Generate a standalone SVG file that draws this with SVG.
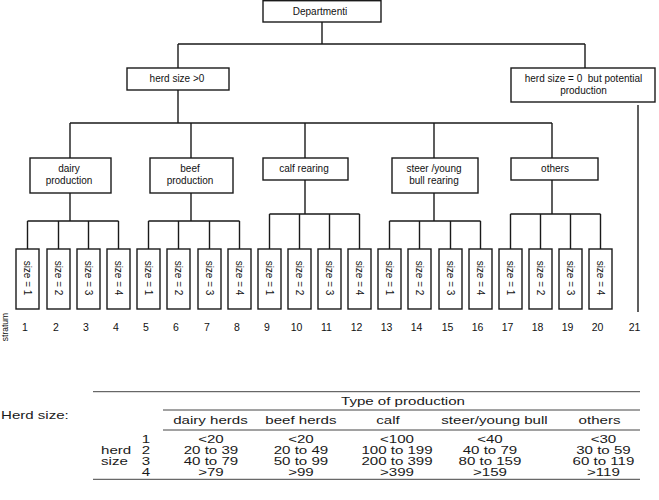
<svg xmlns="http://www.w3.org/2000/svg" width="659" height="500" viewBox="0 0 659 500">
<style>
.bx{fill:#fff;stroke:#1a1a1a;stroke-width:1.4}
.cn{fill:none;stroke:#1a1a1a;stroke-width:1.4}
.t{font-family:"Liberation Sans",Arial,sans-serif;font-size:10px;fill:#111;text-anchor:middle}
.n{font-family:"Liberation Sans",Arial,sans-serif;font-size:10.5px;fill:#111;text-anchor:middle}
.tb{font-family:"Liberation Sans",Arial,sans-serif;font-size:11.6px;fill:#1a1a1a;text-anchor:middle}
.tl{fill:none;stroke:#444;stroke-width:1}
</style>
<rect width="659" height="500" fill="#fff"/>
<g id="connectors">
<path class="cn" d="M322 22V44M178 44H585M178 44V68M585 44V68M178 90V123M70 123H552M70 123V158M191 123V158M305 123V158M434 123V158M552 123V158"/>
<path class="cn" d="M70 193V221M27.5 221H118.5M27.5 221V249M58.5 221V249M88.5 221V249M118.5 221V249"/>
<path class="cn" d="M191 193V221M148.5 221H239.5M148.5 221V249M178.5 221V249M209.5 221V249M239.5 221V249"/>
<path class="cn" d="M305 180V214M269.5 214H359.5M269.5 214V249M299.5 214V249M329.5 214V249M359.5 214V249"/>
<path class="cn" d="M434 193V221M389.5 221H480.5M389.5 221V249M419.5 221V249M450.5 221V249M480.5 221V249"/>
<path class="cn" d="M552 180V214M510.5 214H600.5M510.5 214V249M540.5 214V249M570.5 214V249M600.5 214V249"/>
<path class="cn" d="M638 105V312"/>
</g>
<g id="departmenti"><rect class="bx" x="263" y="0.7" width="118" height="21.3"/><text class="t" x="320" y="14.5">Departmenti</text></g>
<g id="herd-size-gt0"><rect class="bx" x="127" y="68" width="102" height="22"/><text class="t" x="177" y="82">herd size &gt;0</text></g>
<g id="herd-size-0"><rect class="bx" x="511" y="68" width="144" height="34"/><text class="t" x="583.5" y="82">herd size = 0&#160; but potential</text><text class="t" x="583.5" y="94">production</text></g>
<g id="dairy"><rect class="bx" x="30" y="158" width="81" height="35"/><text class="t" x="69" y="171.5">dairy</text><text class="t" x="69" y="184">production</text></g>
<g id="beef"><rect class="bx" x="150" y="158" width="83" height="35"/><text class="t" x="190" y="171.5">beef</text><text class="t" x="190" y="184">production</text></g>
<g id="calf"><rect class="bx" x="263" y="158" width="85" height="22"/><text class="t" x="304" y="171.5">calf rearing</text></g>
<g id="steer"><rect class="bx" x="392" y="158" width="86" height="35"/><text class="t" x="434" y="171.5">steer /young</text><text class="t" x="434" y="184">bull rearing</text></g>
<g id="others"><rect class="bx" x="511" y="158" width="87" height="22"/><text class="t" x="555" y="171.5">others</text></g>
<g id="s1"><rect class="bx" x="16" y="249" width="23" height="60"/><text class="t" transform="translate(27.5 278) rotate(90)" y="3.5">size = 1</text></g>
<g id="s2"><rect class="bx" x="47" y="249" width="23" height="60"/><text class="t" transform="translate(58.5 278) rotate(90)" y="3.5">size = 2</text></g>
<g id="s3"><rect class="bx" x="77" y="249" width="23" height="60"/><text class="t" transform="translate(88.5 278) rotate(90)" y="3.5">size = 3</text></g>
<g id="s4"><rect class="bx" x="107" y="249" width="23" height="60"/><text class="t" transform="translate(118.5 278) rotate(90)" y="3.5">size = 4</text></g>
<g id="s5"><rect class="bx" x="137" y="249" width="23" height="60"/><text class="t" transform="translate(148.5 278) rotate(90)" y="3.5">size = 1</text></g>
<g id="s6"><rect class="bx" x="167" y="249" width="23" height="60"/><text class="t" transform="translate(178.5 278) rotate(90)" y="3.5">size = 2</text></g>
<g id="s7"><rect class="bx" x="198" y="249" width="23" height="60"/><text class="t" transform="translate(209.5 278) rotate(90)" y="3.5">size = 3</text></g>
<g id="s8"><rect class="bx" x="228" y="249" width="23" height="60"/><text class="t" transform="translate(239.5 278) rotate(90)" y="3.5">size = 4</text></g>
<g id="s9"><rect class="bx" x="258" y="249" width="23" height="60"/><text class="t" transform="translate(269.5 278) rotate(90)" y="3.5">size = 1</text></g>
<g id="s10"><rect class="bx" x="288" y="249" width="23" height="60"/><text class="t" transform="translate(299.5 278) rotate(90)" y="3.5">size = 2</text></g>
<g id="s11"><rect class="bx" x="318" y="249" width="23" height="60"/><text class="t" transform="translate(329.5 278) rotate(90)" y="3.5">size = 3</text></g>
<g id="s12"><rect class="bx" x="348" y="249" width="23" height="60"/><text class="t" transform="translate(359.5 278) rotate(90)" y="3.5">size = 4</text></g>
<g id="s13"><rect class="bx" x="378" y="249" width="23" height="60"/><text class="t" transform="translate(389.5 278) rotate(90)" y="3.5">size = 1</text></g>
<g id="s14"><rect class="bx" x="408" y="249" width="23" height="60"/><text class="t" transform="translate(419.5 278) rotate(90)" y="3.5">size = 2</text></g>
<g id="s15"><rect class="bx" x="439" y="249" width="23" height="60"/><text class="t" transform="translate(450.5 278) rotate(90)" y="3.5">size = 3</text></g>
<g id="s16"><rect class="bx" x="469" y="249" width="23" height="60"/><text class="t" transform="translate(480.5 278) rotate(90)" y="3.5">size = 4</text></g>
<g id="s17"><rect class="bx" x="499" y="249" width="23" height="60"/><text class="t" transform="translate(510.5 278) rotate(90)" y="3.5">size = 1</text></g>
<g id="s18"><rect class="bx" x="529" y="249" width="23" height="60"/><text class="t" transform="translate(540.5 278) rotate(90)" y="3.5">size = 2</text></g>
<g id="s19"><rect class="bx" x="559" y="249" width="23" height="60"/><text class="t" transform="translate(570.5 278) rotate(90)" y="3.5">size = 3</text></g>
<g id="s20"><rect class="bx" x="589" y="249" width="23" height="60"/><text class="t" transform="translate(600.5 278) rotate(90)" y="3.5">size = 4</text></g>
<g id="strata">
<text class="t" style="font-size:8.5px" transform="translate(8 327) rotate(-90)">stratum</text>
<text class="n" x="25" y="331">1</text><text class="n" x="56" y="331">2</text><text class="n" x="86" y="331">3</text><text class="n" x="116" y="331">4</text>
<text class="n" x="146" y="331">5</text><text class="n" x="176" y="331">6</text><text class="n" x="207" y="331">7</text><text class="n" x="237" y="331">8</text>
<text class="n" x="267" y="331">9</text><text class="n" x="296.5" y="331">10</text><text class="n" x="326.5" y="331">11</text><text class="n" x="356.5" y="331">12</text>
<text class="n" x="386.5" y="331">13</text><text class="n" x="416.5" y="331">14</text><text class="n" x="447.5" y="331">15</text><text class="n" x="477.5" y="331">16</text>
<text class="n" x="507.5" y="331">17</text><text class="n" x="537.5" y="331">18</text><text class="n" x="567.5" y="331">19</text><text class="n" x="597.5" y="331">20</text>
<text class="n" x="634.5" y="331">21</text>
</g>
<g id="table">
<path class="tl" d="M93 391.7H640M163 410H640M163 430H640M93 479.3H640"/>
<g transform="scale(1.3 1)">
<text class="tb" style="text-anchor:start" x="0.77" y="419">Herd size:</text>
<text class="tb" x="310" y="405">Type of production</text>
<text class="tb" x="161.9" y="424.3">dairy herds</text>
<text class="tb" x="231.5" y="424.3">beef herds</text>
<text class="tb" x="298.5" y="424.3">calf</text>
<text class="tb" x="380.4" y="424.3">steer/young bull</text>
<text class="tb" x="461.2" y="424.3">others</text>
<text class="tb" x="112.2" y="442.7">1</text>
<text class="tb" x="112.2" y="453.8">2</text>
<text class="tb" x="112.2" y="464.9">3</text>
<text class="tb" x="112.2" y="476">4</text>
<text class="tb" style="text-anchor:start" x="77.7" y="453.8">herd</text>
<text class="tb" style="text-anchor:start" x="77.7" y="464.9">size</text>
<text class="tb" x="162.3" y="442.7">&lt;20</text>
<text class="tb" x="162.3" y="453.8">20 to 39</text>
<text class="tb" x="162.3" y="464.9">40 to 79</text>
<text class="tb" x="162.3" y="476">&gt;79</text>
<text class="tb" x="231.5" y="442.7">&lt;20</text>
<text class="tb" x="231.5" y="453.8">20 to 49</text>
<text class="tb" x="231.5" y="464.9">50 to 99</text>
<text class="tb" x="231.5" y="476">&gt;99</text>
<text class="tb" x="305.4" y="442.7">&lt;100</text>
<text class="tb" x="305.4" y="453.8">100 to 199</text>
<text class="tb" x="305.4" y="464.9">200 to 399</text>
<text class="tb" x="305.4" y="476">&gt;399</text>
<text class="tb" x="376.9" y="442.7">&lt;40</text>
<text class="tb" x="376.9" y="453.8">40 to 79</text>
<text class="tb" x="376.9" y="464.9">80 to 159</text>
<text class="tb" x="376.9" y="476">&gt;159</text>
<text class="tb" x="464.2" y="442.7">&lt;30</text>
<text class="tb" x="464.2" y="453.8">30 to 59</text>
<text class="tb" x="464.2" y="464.9">60 to 119</text>
<text class="tb" x="464.2" y="476">&gt;119</text>
</g>
</g>
</svg>
